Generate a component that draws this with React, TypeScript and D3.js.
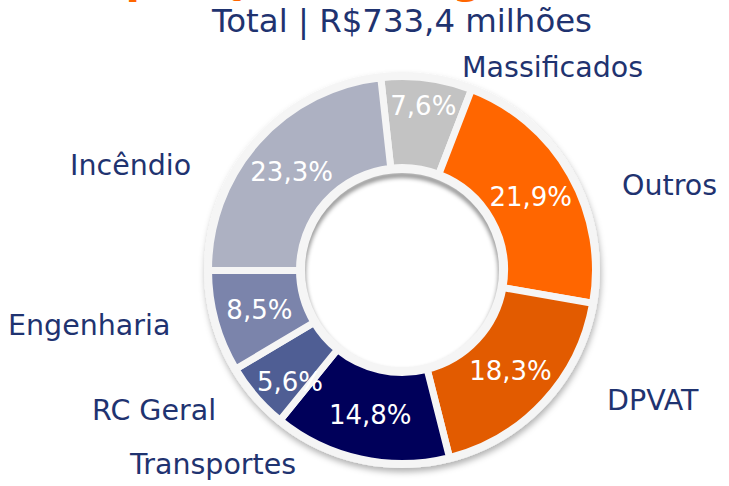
import React from "react";
import * as d3 from "d3";

const categories = ["Massificados", "Outros", "DPVAT", "Transportes", "RC Geral", "Engenharia", "Incêndio"];
const shares = [7.6, 21.9, 18.3, 14.8, 5.6, 8.5, 23.3];
const colors = ["#c3c3c3", "#ff6600", "#e25b00", "#00005a", "#4f5e94", "#7b84ab", "#adb1c2"];
const titleText = "Composição de Seguros";
const subtitleText = "Total | R$733,4 milhões";

// layout constants (not data)
const W = 729;
const H = 486;
const CX = 402;
const CY = 270;
const START_DEG = -6.3;
const valueLabelRadius = [166, 148, 148, 148, 158, 148, 148];
const valueLabelAngleShift = [0, 0, 0, 0, -4, 0, 0];
const nameLabelPos: [number, number][] = [
  [462, 77],
  [622, 195],
  [607, 410],
  [130, 474],
  [92, 420],
  [8, 335],
  [70, 175],
];

const fmt = (v: number) => d3.format(".1f")(v).replace(".", ",") + "%";

export default function App() {
  const start = (START_DEG * Math.PI) / 180;
  const pie = d3
    .pie<number>()
    .sort(null)
    .value((d) => d)
    .startAngle(start)
    .endAngle(start + Math.PI * 2);
  const arcs = pie(shares);
  const arc = d3.arc<d3.PieArcDatum<number>>().innerRadius(102.5).outerRadius(193.5);
  const bg = d3.arc<any>()({ innerRadius: 97, outerRadius: 198, startAngle: 0, endAngle: Math.PI * 2 } as any) as string;
  const font = "'DejaVu Sans', Verdana, sans-serif";
  const navy = "#1f3370";

  return (
    <svg width={W} height={H} style={{ position: "fixed", left: 0, top: 0, display: "block" }}>
      <defs>
        <filter id="ds" x="-20%" y="-20%" width="140%" height="150%">
          <feDropShadow dx="1" dy="4" stdDeviation="3" floodColor="#000" floodOpacity="0.3" />
        </filter>
        <filter id="blur" x="-20%" y="-20%" width="140%" height="140%">
          <feGaussianBlur stdDeviation="2" />
        </filter>
        <clipPath id="hole">
          <circle cx={0} cy={0} r={97} />
        </clipPath>
      </defs>
      <rect width={W} height={H} fill="#fff" />
      <text x={22} y={-7} fontFamily={font} fontWeight="bold" fontSize={42} fill="#ff6600">
        {titleText}
      </text>
      <text x={212} y={32} fontFamily={font} fontSize={32} fill={navy} textLength={380} lengthAdjust="spacingAndGlyphs">
        {subtitleText}
      </text>
      <g transform={`translate(${CX},${CY})`}>
        <path d={bg} fill="#f5f5f5" filter="url(#ds)" />
        {arcs.map((a, i) => (
          <path key={i} d={arc(a) as string} fill={colors[i]} stroke="#f5f5f5" strokeWidth={7} strokeLinejoin="miter" />
        ))}
        <circle r={97} fill="#fff" />
        <g clipPath="url(#hole)">
          <circle cx={0} cy={4} r={99} fill="none" stroke="#000" strokeOpacity={0.45} strokeWidth={5} filter="url(#blur)" />
        </g>
        {arcs.map((a, i) => {
          const mid = (a.startAngle + a.endAngle) / 2 + (valueLabelAngleShift[i] * Math.PI) / 180;
          const r = valueLabelRadius[i];
          return (
            <text
              key={i}
              x={r * Math.sin(mid)}
              y={-r * Math.cos(mid)}
              dy="0.36em"
              textAnchor="middle"
              fontFamily={font}
              fontSize={26}
              fill="#fff"
            >
              {fmt(shares[i])}
            </text>
          );
        })}
      </g>
      {categories.map((c, i) => (
        <text key={c} x={nameLabelPos[i][0]} y={nameLabelPos[i][1]} fontFamily={font} fontSize={28.5} fill={navy}>
          {c}
        </text>
      ))}
    </svg>
  );
}
